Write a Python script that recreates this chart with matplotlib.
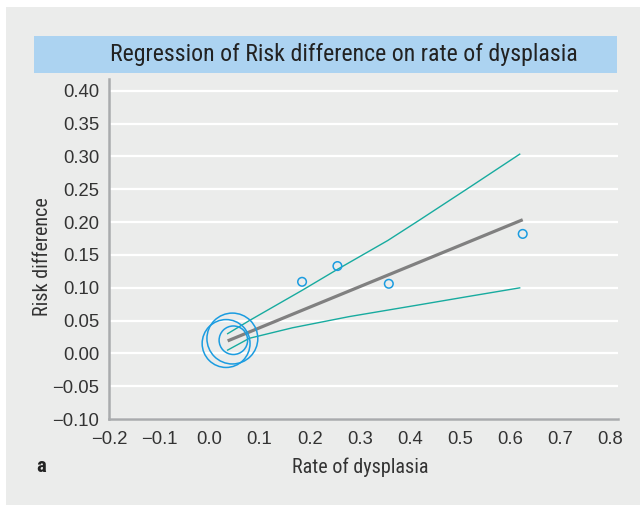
import numpy as np
import matplotlib.pyplot as plt
from matplotlib.patches import Rectangle

# data
rate = [0.0335, 0.046, 0.048, 0.185, 0.2555, 0.358, 0.625]      # rate of dysplasia
risk_diff = [0.015, 0.0226, 0.020, 0.109, 0.133, 0.106, 0.182]  # risk difference
weights = [31, 35, 11, 1, 1, 1, 1]                              # relative study weight (bubble area)

fit_x = [0.0366, 0.625]
fit_y = [0.019, 0.2036]

upper_x = [0.0366, 0.08, 0.185, 0.2555, 0.356, 0.419, 0.519, 0.619]
upper_y = [0.030, 0.050, 0.096, 0.128, 0.172, 0.203, 0.253, 0.3035]
lower_x = [0.0366, 0.08, 0.166, 0.279, 0.419, 0.519, 0.619]
lower_y = [0.005, 0.023, 0.039, 0.056, 0.074, 0.087, 0.0998]

xticks = [-0.2, -0.1, 0.0, 0.1, 0.2, 0.3, 0.4, 0.5, 0.6, 0.7, 0.8]
yticks = [-0.10, -0.05, 0.00, 0.05, 0.10, 0.15, 0.20, 0.25, 0.30, 0.35, 0.40]

W, H = 640, 505
panel = '#ebeceb'
blue = '#1b9ce0'
teal = '#17ab9f'
narrow = ['Roboto Condensed', 'Roboto', 'DejaVu Sans']

fig = plt.figure(figsize=(W / 100, H / 100), dpi=100)
fig.patch.set_facecolor('white')

def fx(px):
    return px / W

def fy(py):
    return 1 - py / H

# grey panel and blue title bar
fig.patches.append(Rectangle((fx(6), 0), 1 - fx(6), fy(7), transform=fig.transFigure,
                             facecolor=panel, edgecolor='none', zorder=-10))
fig.patches.append(Rectangle((fx(34), fy(73)), fx(617) - fx(34), fy(36) - fy(73),
                             transform=fig.transFigure, facecolor='#acd3f1',
                             edgecolor='none', zorder=-9))
fig.text(fx(344), fy(55), 'Regression of Risk difference on rate of dysplasia',
         ha='center', va='center', fontsize=17.2, color='#222222', family=narrow,
         fontstretch='condensed')

ax = fig.add_axes([fx(109), fy(419), fx(618) - fx(109), fy(79) - fy(419)])
ax.set_facecolor(panel)
ax.set_xlim(-0.2, 0.815)
ax.set_ylim(-0.10, 0.418)
ax.set_xticks(xticks)
ax.set_yticks(yticks)
ax.set_xticklabels(['\u22120.%d' % abs(round(t * 10)) if t < 0 else '%.1f' % t for t in xticks])
ax.set_yticklabels(['\u2212%.2f' % abs(t) if t < 0 else '%.2f' % t for t in yticks])
ax.tick_params(length=0, labelsize=13.3, labelcolor='#333333')
ax.tick_params(axis='y', pad=7)
ax.tick_params(axis='x', pad=9)
for lab in ax.get_xticklabels() + ax.get_yticklabels():
    lab.set_family(['Liberation Sans', 'DejaVu Sans'])

for s in ['top', 'right']:
    ax.spines[s].set_visible(False)
for s in ['left', 'bottom']:
    ax.spines[s].set_color('#a9abad')
    ax.spines[s].set_linewidth(1.8)
ax.yaxis.grid(True, color='white', linewidth=1.6)
ax.set_axisbelow(True)

# bubbles
radius_px = 4.3 * np.sqrt(np.array(weights))
sizes = (2 * radius_px * 0.72) ** 2
ax.scatter(rate, risk_diff, s=sizes, facecolors='none', edgecolors=blue,
           linewidths=1.1, zorder=3, clip_on=False)

# regression line and confidence limits
ax.plot(upper_x, upper_y, color=teal, linewidth=1.0, zorder=2)
ax.plot(lower_x, lower_y, color=teal, linewidth=1.0, zorder=2)
ax.plot(fit_x, fit_y, color='#808080', linewidth=2.3, zorder=2.5, solid_capstyle='butt')

fig.text(fx(360), fy(467), 'Rate of dysplasia', ha='center', va='center',
         fontsize=14.5, color='#333333', family=narrow, fontstretch='condensed')
fig.text(fx(43), fy(257), 'Risk difference', ha='center', va='center', rotation=90,
         fontsize=14.5, color='#333333', family=narrow, fontstretch='condensed')
fig.text(fx(41), fy(467), 'a', ha='center', va='center', fontsize=15,
         fontweight='bold', color='#222222', family=narrow)

fig.savefig('out.png', dpi=100, facecolor=fig.get_facecolor())
